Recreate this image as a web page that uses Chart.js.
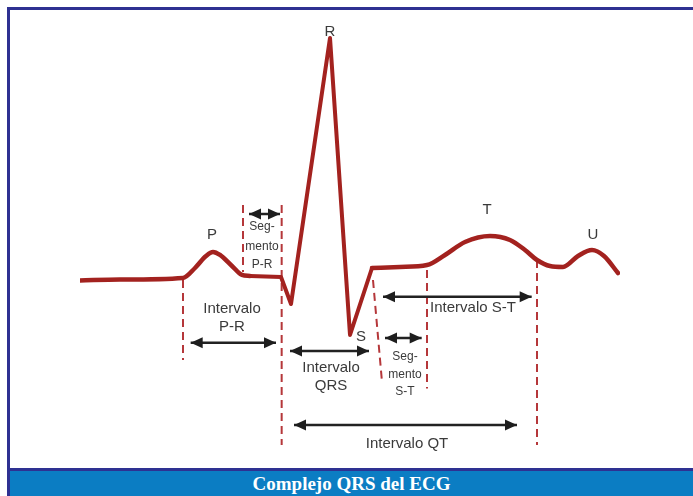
<!DOCTYPE html>
<html><head><meta charset="utf-8">
<script src="https://cdn.jsdelivr.net/npm/chart.js@4.4.1/dist/chart.umd.min.js"></script>
<style>
html,body{margin:0;padding:0;background:#fff;}
#wrap{position:relative;width:693px;height:496px;overflow:hidden;background:#fff;}
#c{position:absolute;left:0;top:0;}
.bl{position:absolute;left:7px;top:7px;width:3px;height:489px;background:#2e3192;}
.bt{position:absolute;left:7px;top:7px;width:686px;height:3px;background:#2e3192;}
.bar{position:absolute;left:10px;top:468px;width:683px;height:28px;background:#0b7dc3;border-top:3px solid #2e3192;box-sizing:border-box;color:#fff;font:bold 19px 'Liberation Serif',serif;text-align:center;line-height:25px;}
</style></head>
<body>
<div id="wrap">
<canvas id="c" width="693" height="496"></canvas>
<div class="bl"></div><div class="bt"></div>
<div class="bar">Complejo QRS del ECG</div>
</div>
<script>
// ECG trace: time (ms) and amplitude (mV)
const pWaveTime = [0, 60, 154.5, 172.5, 189, 199.5, 210, 228, 243, 255];
const pWaveMV   = [-0.015, -0.01, 0, 0.0625, 0.1375, 0.1625, 0.144, 0.075, 0.019, 0.0125];
const qrsTime   = [255, 301.5, 316.5, 375, 405, 438];
const qrsMV     = [0.0125, 0.006, -0.1625, 1.5, -0.356, 0.0625];
const stTuTime  = [438, 480, 520.5, 547.5, 577.5, 615, 645, 667.5, 685.5, 705, 724.5, 747, 768, 786, 807];
const stTuMV    = [0.0625, 0.069, 0.081, 0.144, 0.225, 0.2625, 0.2375, 0.175, 0.1125, 0.075, 0.069, 0.1375, 0.175, 0.1375, 0.031];

// dashed boundary markers
const guideTimeTop    = [154.5, 244.5, 302.5, 439.5, 520.5, 685.5];
const guideTimeBottom = [154.5, 244.5, 302.5, 453, 520.5, 685.5];
const guideMVTop      = [-0.0125, 0.456, 0.456, -0.0125, 0.05, 0.1125];
const guideMVBottom   = [-0.5125, 0.0375, -1.044, -0.65, -0.69, -1.044];

// interval arrows
const intervalNames = ['Segmento P-R','Intervalo P-R','Intervalo QRS','Segmento S-T','Intervalo S-T','Intervalo QT'];
const intervalStart = [253.5, 166, 315, 457.5, 454.5, 321];
const intervalEnd   = [300, 294, 433.5, 512.5, 677.5, 655.5];
const intervalLevel = [0.40, -0.404, -0.456, -0.375, -0.117, -0.919];

// wave labels
const waveLabels    = ['R','P','S','T','U'];
const waveLabelTime = [375, 198, 421.5, 610.5, 769.5];
const waveLabelMV   = [1.5375, 0.269, -0.369, 0.425, 0.269];

// segment notes (small text)
const segNoteText = ['Seg-','mento','P-R','Seg-','mento','S-T'];
const segNoteTime = [273, 273, 273, 487.5, 487.5, 487.5];
const segNoteMV   = [0.319, 0.194, 0.081, -0.494, -0.606, -0.7125];

// interval notes
const intNoteText = ['Intervalo','P-R','Intervalo','QRS','Intervalo S-T','Intervalo QT'];
const intNoteTime = [228, 228, 376.5, 376.5, 589.5, 490.5];
const intNoteMV   = [-0.194, -0.306, -0.5625, -0.675, -0.1875, -1.0375];

const pts = (xs, ys) => xs.map((x, i) => ({x, y: ys[i]}));
const ECG = '#a3221f';
const datasets = [];
datasets.push({data: pts(pWaveTime, pWaveMV), borderColor: ECG, borderWidth: 4.5, cubicInterpolationMode: 'monotone', pointRadius: 0, order: 0, borderCapStyle:'round', borderJoinStyle:'round'});
datasets.push({data: pts(qrsTime, qrsMV), borderColor: ECG, borderWidth: 4, tension: 0, pointRadius: 0, order: 0, borderCapStyle:'round', borderJoinStyle:'round'});
datasets.push({data: pts(stTuTime, stTuMV), borderColor: ECG, borderWidth: 4.5, cubicInterpolationMode: 'monotone', pointRadius: 0, order: 0, borderCapStyle:'round', borderJoinStyle:'round'});
guideTimeTop.forEach((t, i) => {
  datasets.push({data: [{x: t, y: guideMVTop[i]}, {x: guideTimeBottom[i], y: guideMVBottom[i]}], borderColor: '#b5373a', borderWidth: 2, borderDash: [8, 5], pointRadius: 0, order: 2});
});
intervalNames.forEach((n, i) => {
  datasets.push({label: n, isArrow: true, data: [{x: intervalStart[i], y: intervalLevel[i]}, {x: intervalEnd[i], y: intervalLevel[i]}], borderColor: '#222', borderWidth: 2.5, pointRadius: 0, order: 1});
});

const annotate = {
  id: 'annotate',
  afterDatasetsDraw(chart) {
    const ctx = chart.ctx, xs = chart.scales.x, ys = chart.scales.y;
    ctx.save();
    chart.data.datasets.forEach((ds, di) => {
      if (!ds.isArrow) return;
      const m = chart.getDatasetMeta(di).data;
      const a = m[0], b = m[m.length - 1];
      const head = (tip, dir) => {
        ctx.beginPath();
        ctx.moveTo(tip.x, tip.y);
        ctx.lineTo(tip.x - dir * 12, tip.y - 5.5);
        ctx.lineTo(tip.x - dir * 12, tip.y + 5.5);
        ctx.closePath();
        ctx.fillStyle = '#1e1e1e';
        ctx.fill();
      };
      head(a, -1); head(b, 1);
    });
    ctx.textAlign = 'center';
    ctx.textBaseline = 'middle';
    ctx.fillStyle = '#3a3a3a';
    ctx.font = '15px "Liberation Sans", Arial, sans-serif';
    waveLabels.forEach((t, i) => ctx.fillText(t, xs.getPixelForValue(waveLabelTime[i]), ys.getPixelForValue(waveLabelMV[i])));
    intNoteText.forEach((t, i) => ctx.fillText(t, xs.getPixelForValue(intNoteTime[i]), ys.getPixelForValue(intNoteMV[i])));
    ctx.font = '12px "Liberation Sans", Arial, sans-serif';
    segNoteText.forEach((t, i) => ctx.fillText(t, xs.getPixelForValue(segNoteTime[i]), ys.getPixelForValue(segNoteMV[i])));
    ctx.restore();
  }
};

new Chart(document.getElementById('c'), {
  type: 'scatter',
  data: {datasets},
  options: {
    responsive: false, devicePixelRatio: 1, animation: false,
    showLine: true,
    layout: {padding: {left: 80, right: 73, top: 22, bottom: 26}},
    scales: {
      x: {type: 'linear', min: 0, max: 810, display: false},
      y: {type: 'linear', min: -1.2, max: 1.6, display: false}
    },
    plugins: {legend: {display: false}, tooltip: {enabled: false}}
  },
  plugins: [annotate]
});
</script>
</body></html>
